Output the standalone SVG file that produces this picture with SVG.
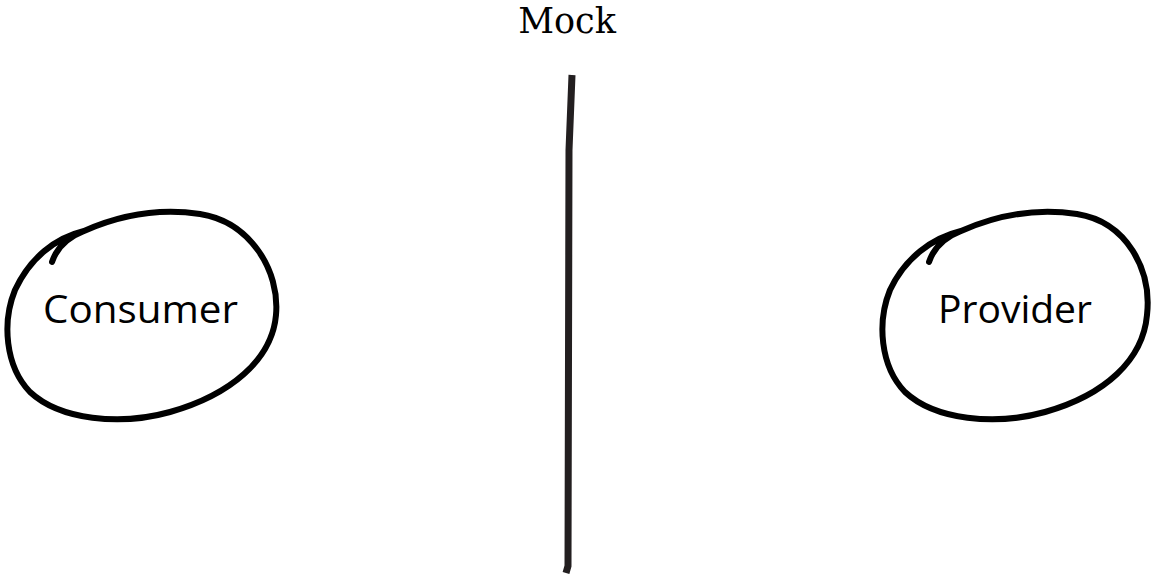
<svg xmlns="http://www.w3.org/2000/svg" width="1157" height="574" viewBox="0 0 1157 574">
<style>
.blob{fill:none;stroke:#000;stroke-width:6;stroke-linecap:round;stroke-linejoin:round}
.lbl{font-family:"Open Sans",Lato,sans-serif;font-size:38px;fill:#000}
.title{font-family:"DejaVu Serif",serif;font-size:35px;fill:#000;text-anchor:middle}
</style>
<rect width="1157" height="574" fill="#fff"/>
<g id="mock">
<text class="title" x="567" y="33">Mock</text>
</g>
<g id="connectors">
<path d="M572,75 L569,150 L568,566 L566,573" fill="none" stroke="#231f20" stroke-width="7"/>
</g>
<g id="consumer">
<path class="blob" d="M52,262 C56,250 66,238 84,231 C120,215 160,208 200,214 C250,222 280,270 276,315 C272,360 230,395 170,412 C120,426 60,420 30,392 C5,366 2,322 15,290 C30,258 55,238 84,231"/>
<text class="lbl" x="43" y="323" textLength="195" lengthAdjust="spacingAndGlyphs">Consumer</text>
</g>
<g id="provider">
<path class="blob" d="M929,262 C933,250 943,238 961,231 C997,215 1037,208 1077,214 C1127,222 1152,270 1147,315 C1143,360 1105,395 1045,412 C995,426 935,420 905,392 C880,366 877,322 890,290 C905,258 932,238 961,231"/>
<text class="lbl" x="938" y="323" textLength="154" lengthAdjust="spacingAndGlyphs">Provider</text>
</g>
</svg>
